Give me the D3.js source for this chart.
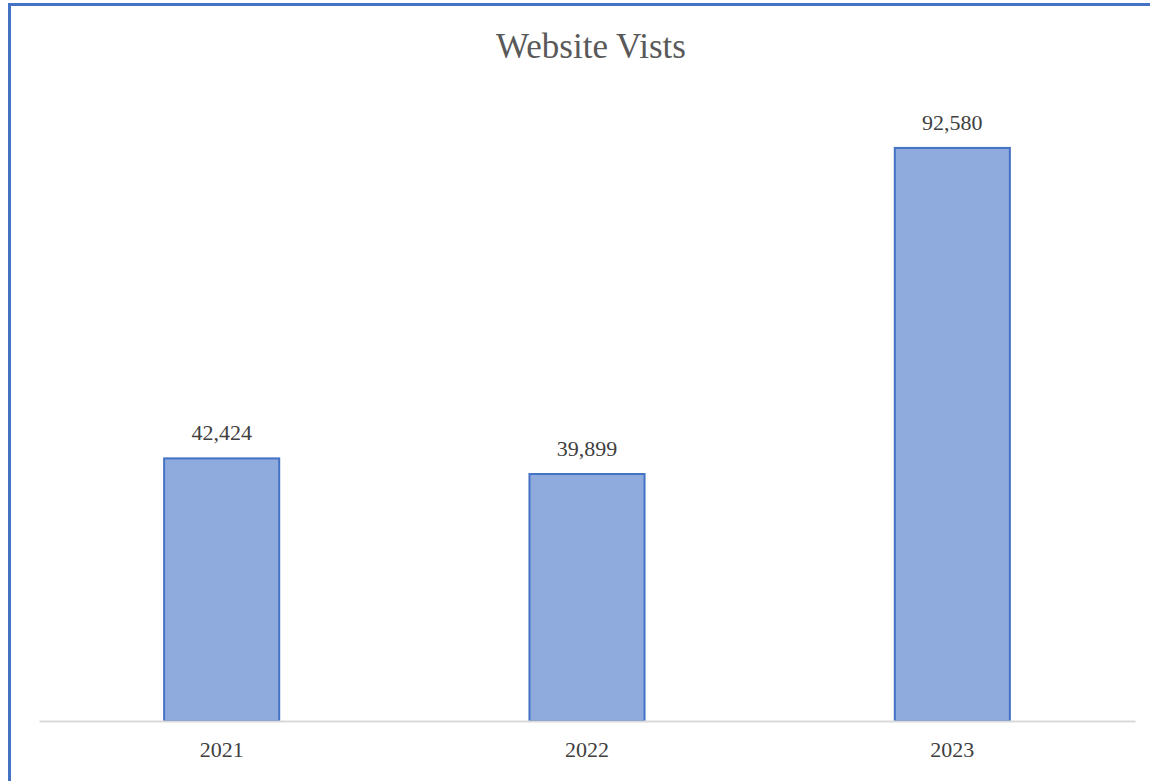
<!DOCTYPE html>
<html lang="en">
<head>
	<meta charset="utf-8">
	<title>Website Vists</title>
	<script src="https://cdn.jsdelivr.net/npm/d3@7"></script>
	<style>
		html, body { margin: 0; padding: 0; background: #fff; }
		svg { display: block; }
	</style>
</head>
<body>
	<div id="chart"></div>
	<script>
		// data
		const years = ["2021", "2022", "2023"];
		const visits = [42424, 39899, 92580];
		const title = "Website Vists";

		const W = 1150, H = 781;
		const margin = {top: 102, right: 15, bottom: 60, left: 39};
		const width = W - margin.left - margin.right,
			height = H - margin.top - margin.bottom;

		const svg = d3.select("#chart").append("svg")
			.attr("width", W)
			.attr("height", H);

		// outer frame (cropped at right / bottom)
		svg.append("path")
			.attr("d", "M9.5," + H + " V4.5 H" + W)
			.attr("fill", "none")
			.attr("stroke", "#4472c4")
			.attr("stroke-width", 3);

		const g = svg.append("g")
			.attr("transform", "translate(" + margin.left + "," + margin.top + ")");

		const x = d3.scaleBand()
			.domain(years)
			.range([0, width])
			.paddingInner(0.685)
			.paddingOuter(0.3425);

		const y = d3.scaleLinear()
			.domain([0, 100000])
			.range([height, 0]);

		// bars
		g.selectAll(".bar")
			.data(years)
			.join("rect")
			.attr("class", "bar")
			.attr("x", d => x(d))
			.attr("width", x.bandwidth())
			.attr("y", (d, i) => y(visits[i]))
			.attr("height", (d, i) => height - y(visits[i]))
			.attr("fill", "#8faadc")
			.attr("stroke", "#4472c4")
			.attr("stroke-width", 2);

		// value labels
		g.selectAll(".val")
			.data(years)
			.join("text")
			.attr("class", "val")
			.attr("x", d => x(d) + x.bandwidth() / 2)
			.attr("y", (d, i) => y(visits[i]) - 18)
			.attr("text-anchor", "middle")
			.attr("font-family", "'Liberation Serif', serif")
			.attr("font-size", 22)
			.attr("fill", "#404040")
			.text((d, i) => d3.format(",")(visits[i]));

		// x axis
		const xAxis = g.append("g")
			.attr("transform", "translate(0," + height + ")")
			.call(d3.axisBottom(x).tickSize(0).tickPadding(20));
		xAxis.select(".domain")
			.attr("stroke", "#d9d9d9")
			.attr("stroke-width", 2);
		xAxis.selectAll("text")
			.attr("font-family", "'Liberation Serif', serif")
			.attr("font-size", 22)
			.attr("fill", "#404040");

		// title
		svg.append("text")
			.attr("x", margin.left + width / 2 + 4)
			.attr("y", 58)
			.attr("text-anchor", "middle")
			.attr("font-family", "'Liberation Serif', serif")
			.attr("font-size", 35)
			.attr("fill", "#595959")
			.text(title);
	</script>
</body>
</html>
